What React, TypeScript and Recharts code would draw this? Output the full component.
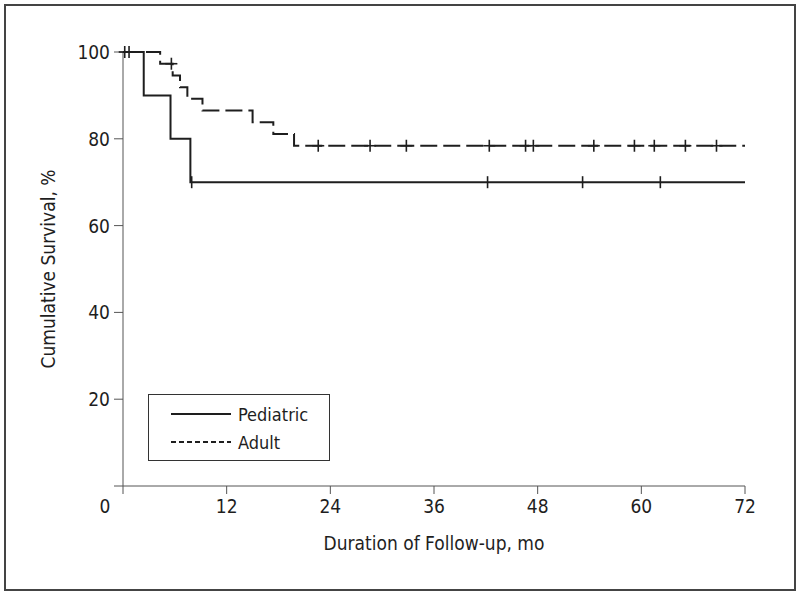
import React from 'react';
import { ComposedChart, Line, Scatter, XAxis, YAxis } from 'recharts';

// Kaplan-Meier step points (month, cumulative survival %)
const pediatricMonths = [0, 2.4, 5.5, 7.8, 72];
const pediatricSurvival = [100, 90, 80, 70, 70];
const adultMonths = [0, 4.3, 5.75, 6.6, 7.45, 9.2, 15.0, 17.4, 19.8, 72];
const adultSurvival = [100, 97.3, 94.6, 91.9, 89.2, 86.5, 83.8, 81.1, 78.4, 78.4];

// Censored observations
const pediatricCensorMonths = [7.95, 42.2, 53.2, 62.2];
const pediatricCensorSurvival = [70, 70, 70, 70];
const adultCensorMonths = [0.2, 0.7, 5.6, 22.6, 28.6, 32.8, 42.4, 46.6, 47.5, 54.5, 59.2, 61.5, 65.1, 68.7];
const adultCensorSurvival = [100, 100, 97.3, 78.4, 78.4, 78.4, 78.4, 78.4, 78.4, 78.4, 78.4, 78.4, 78.4, 78.4];

const xTicks = [0, 12, 24, 36, 48, 60, 72];
const yTicks = [0, 20, 40, 60, 80, 100];
const seriesNames = ['Pediatric', 'Adult'];

const zip = (xs: number[], ys: number[]) => xs.map((x, i) => ({ x, y: ys[i] }));
const pediatricData = zip(pediatricMonths, pediatricSurvival);
const adultData = zip(adultMonths, adultSurvival);
const pediatricCensor = zip(pediatricCensorMonths, pediatricCensorSurvival);
const adultCensor = zip(adultCensorMonths, adultCensorSurvival);

const FONT = "'Liberation Sans Narrow', 'DejaVu Sans Condensed', 'Roboto', sans-serif";
const INK = '#1e1e1e';
const AXIS = '#555';

const Plus = (props: any) => {
  const { cx, cy } = props;
  if (cx == null || cy == null) return <g />;
  return (
    <g stroke={INK} strokeWidth={1.6}>
      <line x1={cx} y1={cy - 6} x2={cx} y2={cy + 6} />
      <line x1={cx - 6} y1={cy} x2={cx + 6} y2={cy} />
    </g>
  );
};

const VTick = (props: any) => {
  const { cx, cy } = props;
  if (cx == null || cy == null) return <g />;
  return <line x1={cx} y1={cy - 6} x2={cx} y2={cy + 6} stroke={INK} strokeWidth={1.6} />;
};

const XTick = (props: any) => {
  const { x, y, payload } = props;
  const dx = payload.value === 0 ? -18 : 0;
  return (
    <text x={x + dx} y={y + 17} textAnchor="middle" fill={INK} fontSize={19} fontFamily={FONT}>
      {payload.value}
    </text>
  );
};

const YTick = (props: any) => {
  const { x, y, payload } = props;
  if (payload.value === 0) return <g />;
  return (
    <text x={x - 2} y={y + 7} textAnchor="end" fill={INK} fontSize={19} fontFamily={FONT}>
      {payload.value}
    </text>
  );
};

const LegendBox = () => (
  <div style={{ position: 'absolute', left: 148, top: 394, width: 182, height: 67, border: '1.5px solid #333', boxSizing: 'border-box', background: '#fff' }}>
    <svg width={180} height={64} style={{ display: 'block' }}>
      <line x1={22} y1={19} x2={82} y2={19} stroke={INK} strokeWidth={1.8} />
      <text x={89} y={26} fontSize={18} fontFamily={FONT} fill={INK}>{seriesNames[0]}</text>
      <line x1={22} y1={47} x2={82} y2={47} stroke={INK} strokeWidth={1.8} strokeDasharray="5 3" />
      <text x={89} y={54} fontSize={18} fontFamily={FONT} fill={INK}>{seriesNames[1]}</text>
    </svg>
  </div>
);

export default function App() {
  return (
    <div style={{ position: 'absolute', left: 0, top: 0, width: 800, height: 594, background: '#fff' }}>
      <div style={{ position: 'absolute', left: 4, top: 4, width: 792, height: 587, border: '2px solid #444', boxSizing: 'border-box' }} />
      <div style={{ position: 'absolute', left: 0, top: 0 }}>
        <ComposedChart width={800} height={594} margin={{ top: 52, right: 55, bottom: 38, left: 0 }}>
          <XAxis
            dataKey="x"
            type="number"
            domain={[0, 72]}
            ticks={xTicks}
            interval={0}
            stroke={AXIS}
            tickSize={8}
            tick={<XTick />}
            height={70}
            label={{ value: 'Duration of Follow-up, mo', position: 'insideBottom', offset: 6, fontSize: 19, fontFamily: FONT, fill: INK }}
          />
          <YAxis
            dataKey="y"
            type="number"
            domain={[0, 100]}
            ticks={yTicks}
            interval={0}
            stroke={AXIS}
            tickSize={9}
            tick={<YTick />}
            width={123}
            label={{ value: 'Cumulative Survival, %', angle: -90, position: 'insideLeft', offset: 48, fontSize: 19, fontFamily: FONT, fill: INK, style: { textAnchor: 'middle' } }}
          />
          <Line data={pediatricData} dataKey="y" type="stepAfter" stroke={INK} strokeWidth={2} dot={false} isAnimationActive={false} name={seriesNames[0]} />
          <Line data={adultData} dataKey="y" type="stepAfter" stroke={INK} strokeWidth={2} strokeDasharray="17 6" dot={false} isAnimationActive={false} name={seriesNames[1]} />
          <Scatter data={pediatricCensor} dataKey="y" shape={<VTick />} isAnimationActive={false} legendType="none" />
          <Scatter data={adultCensor} dataKey="y" shape={<Plus />} isAnimationActive={false} legendType="none" />
        </ComposedChart>
      </div>
      <LegendBox />
    </div>
  );
}
